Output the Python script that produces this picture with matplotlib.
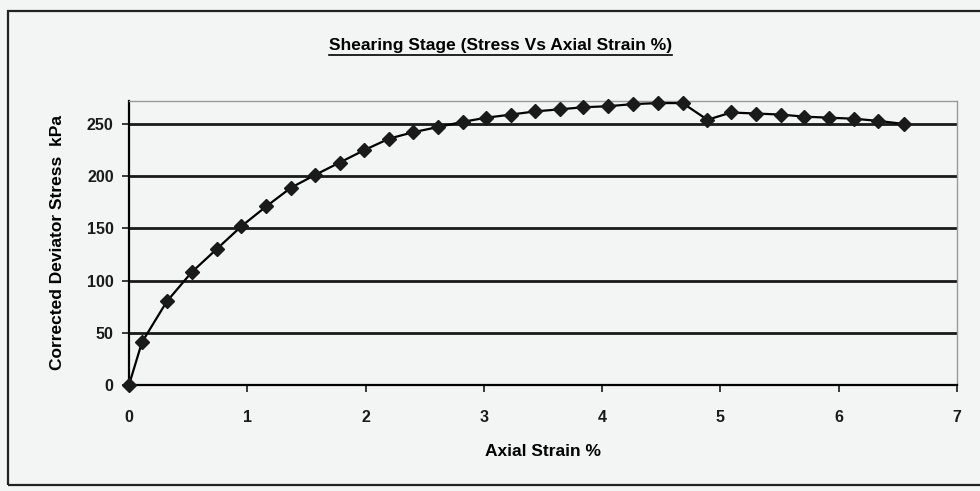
import numpy as np
import matplotlib.pyplot as plt
from matplotlib.lines import Line2D
from matplotlib.patches import Rectangle

# 数据：轴向应变 % 与修正偏应力 kPa
strain = [0.0, 0.11, 0.32, 0.53, 0.74, 0.95, 1.16, 1.37, 1.57, 1.78, 1.99,
          2.20, 2.40, 2.61, 2.82, 3.02, 3.23, 3.43, 3.64, 3.84, 4.05, 4.26,
          4.47, 4.68, 4.89, 5.09, 5.30, 5.51, 5.71, 5.92, 6.13, 6.33, 6.55]
stress = [0, 41, 80, 108, 130, 152, 171, 189, 201, 213, 225,
          236, 242, 247, 252, 256, 259, 262, 264, 266, 267, 269,
          270, 270, 254, 261, 260, 259, 257, 256, 255, 253, 250]
x_ticks = [0, 1, 2, 3, 4, 5, 6, 7]
y_ticks = [0, 50, 100, 150, 200, 250]

plt.rcParams['font.family'] = ['Liberation Sans', 'DejaVu Sans']
plt.rcParams['font.weight'] = 'bold'

bg = '#f3f4f4'
fig = plt.figure(figsize=(9.8, 4.91), dpi=100, facecolor=bg)
ax = fig.add_axes([0.1316, 0.2159, 0.845, 0.5784], facecolor=bg)

# 外框
fig.patches.append(Rectangle((0.008, 0.012), 1.2, 0.965, transform=fig.transFigure,
                             fill=False, edgecolor='#222222', lw=1.6))

for y in y_ticks:
    ax.axhline(y, color='#1a1a1a', lw=2.0, zorder=1)

ax.plot(strain, stress, color='black', lw=1.6, marker='D', markersize=7,
        markerfacecolor='#1a1a1a', markeredgecolor='#1a1a1a', zorder=3, clip_on=False)

ax.set_xlim(0, 7)
ax.set_ylim(0, 272)
ax.set_xticks(x_ticks)
ax.set_yticks(y_ticks)
ax.tick_params(axis='both', direction='out', length=5, width=1.2, labelsize=11.5,
               colors='#1a1a1a')
ax.tick_params(axis='x', pad=13)
ax.tick_params(axis='y', pad=6)

for s in ['top', 'right']:
    ax.spines[s].set_color('#999999')
    ax.spines[s].set_linewidth(1.0)
    ax.spines[s].set_linestyle((0, (2, 1)))
ax.spines['left'].set_linewidth(1.6)
ax.spines['bottom'].set_linewidth(1.6)

ax.set_xlabel('Axial Strain %', fontsize=12.5, fontweight='bold', labelpad=14)
ax.set_ylabel('Corrected Deviator Stress  kPa', fontsize=12.5, fontweight='bold', labelpad=16)

title = fig.text(0.511, 0.908, 'Shearing Stage (Stress Vs Axial Strain %)',
                 ha='center', va='center', fontsize=12.5, fontweight='bold')
fig.canvas.draw()
bb = title.get_window_extent().transformed(fig.transFigure.inverted())
fig.lines.append(Line2D([bb.x0, bb.x1], [bb.y0 - 0.004, bb.y0 - 0.004],
                        transform=fig.transFigure, color='black', lw=1.2))

plt.savefig('out.png', dpi=100, facecolor=bg)
